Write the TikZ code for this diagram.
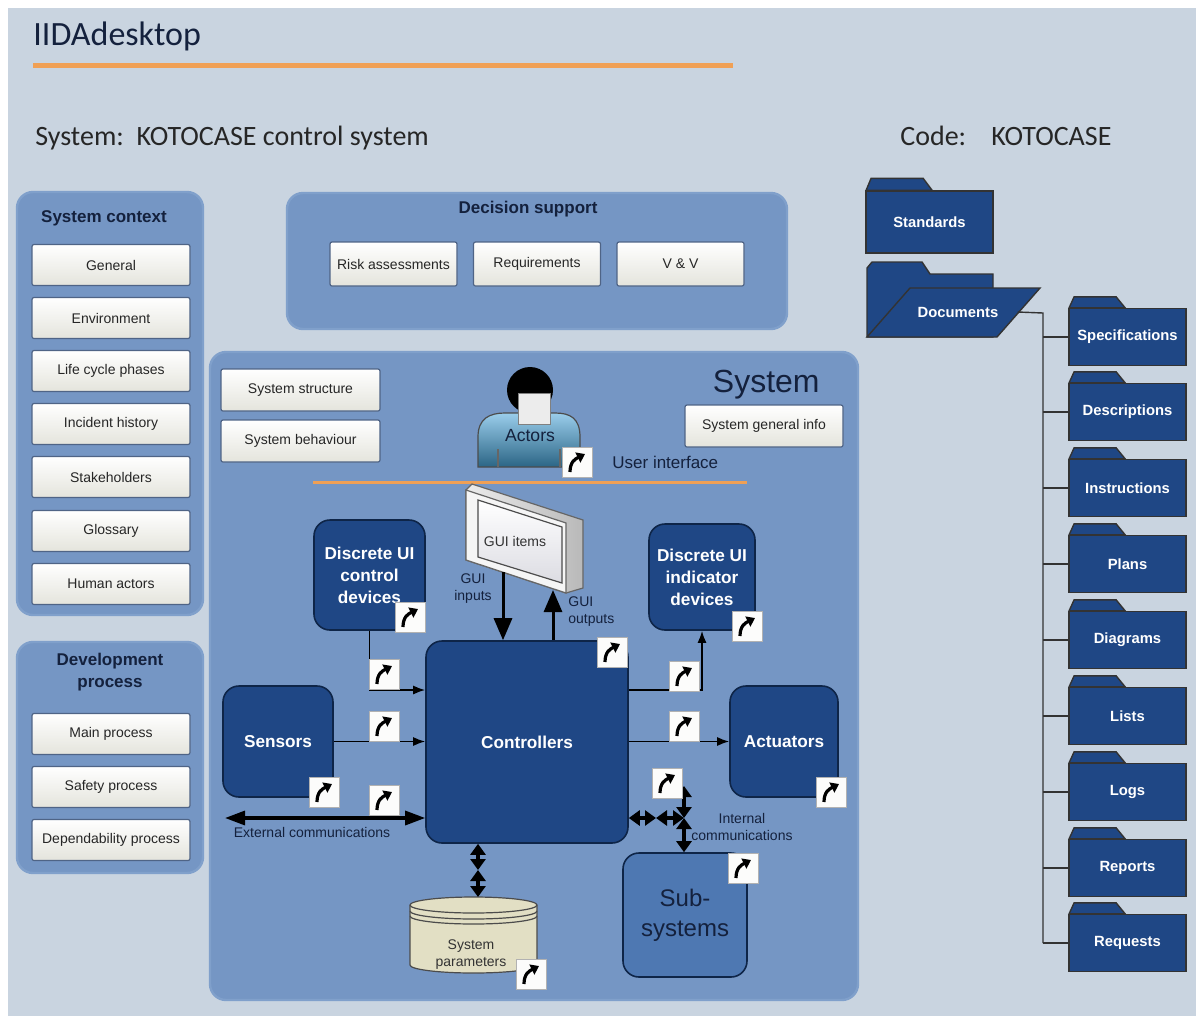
\documentclass[tikz,border=0pt]{standalone}
\usepackage{fontspec}
\setmainfont{Liberation Sans}
\newfontfamily\calfont{Carlito}
\usetikzlibrary{arrows.meta,positioning}
\definecolor{pageBg}{HTML}{C9D4E0}
\definecolor{panelBlue}{HTML}{7596C4}
\definecolor{panelRim}{HTML}{80A0CB}
\definecolor{unitBlue}{HTML}{1F4785}
\definecolor{unitEdge}{HTML}{0E2548}
\definecolor{subBlue}{HTML}{4E78B2}
\definecolor{btnBot}{HTML}{E4E4DC}
\definecolor{btnEdge}{HTML}{4F6486}
\definecolor{navy}{HTML}{14213D}
\definecolor{accent}{HTML}{F0A055}
\definecolor{paramFill}{HTML}{E2DFC4}
\definecolor{actLight}{HTML}{9ACDEB}
\definecolor{actDark}{HTML}{2B6585}
\tikzset{
    panel/.style={fill=panelBlue, draw=panelRim, line width=1.2pt, rounded corners=8pt},
    btn/.style={draw=btnEdge, line width=0.6pt, rounded corners=1pt, top color=white,
        bottom color=btnBot, minimum width=79pt, minimum height=20.5pt, inner sep=0pt,
        font=\fontsize{7}{8}\selectfont, text=black!85},
    ptitle/.style={font=\fontsize{8.5}{11}\selectfont\bfseries, text=navy, align=center},
    unit/.style={fill=unitBlue, draw=unitEdge, line width=0.8pt, rounded corners=8pt, text=white,
        font=\fontsize{8.6}{11}\selectfont\bfseries, align=center, inner sep=0pt},
    folder/.style={fill=unitBlue, draw=black!80, line width=0.7pt, text=white,
        font=\fontsize{7.4}{9}\selectfont\bfseries, inner sep=0pt},
    lbl/.style={font=\fontsize{7}{8.5}\selectfont, text=navy, align=center, inner sep=0pt},
    flow/.style={draw=black, line width=0.8pt, -{Latex[length=6pt,width=4.5pt]}},
    bus/.style={draw=black, line width=1.6pt, {Triangle[length=10pt,width=7pt]}-{Triangle[length=10pt,width=7pt]}},
    twin/.style={draw=black, line width=1.6pt, {Triangle[length=5.5pt,width=7.5pt]}-{Triangle[length=5.5pt,width=7.5pt]}},
    feed/.style={draw=black, line width=1.5pt, -{Triangle[length=11pt,width=9pt]}},
    tree/.style={draw=black!80, line width=0.7pt},
    hyp/.style={draw=black!30, fill=white!90!btnBot, minimum size=15pt, inner sep=0pt,
        path picture={\draw[black, line width=1.6pt, -{Triangle[length=4pt,width=5.5pt]}]
            ([shift={(-3.5pt,-5pt)}]path picture bounding box.center)
            .. controls ([shift={(-3.5pt,0pt)}]path picture bounding box.center)
            and ([shift={(-1pt,1.5pt)}]path picture bounding box.center)
            .. ([shift={(4pt,4pt)}]path picture bounding box.center);}}
}
\newcommand{\foldertab}[3]{%
  \filldraw[fill=unitBlue, draw=black!80, line width=0.7pt]
    ([xshift=0.4pt]#1.north west) -- ++(2.5pt,#3) -- ++(#2,0) -- ++(4.5pt,-#3) -- cycle;}

\begin{document}
\begin{tikzpicture}[x=0.5pt,y=-0.5pt]
\useasboundingbox (0,0) rectangle (1200,1019);
\fill[white] (0,0) rectangle (1200,1019);
\fill[pageBg] (8,8) rectangle (1196,1016);

% heading
\node[anchor=base west, inner sep=0pt, font=\calfont\fontsize{17}{20}\selectfont, text=navy] (title) at (33,45) {IIDAdesktop};
\draw[accent, line width=2.5pt] (33,65) -- (733,65);
\node[anchor=base west, inner sep=0pt, font=\calfont\fontsize{14}{17}\selectfont, text=black!85] (sysName) at (35,145) {System:\ \ KOTOCASE control system};
\node[anchor=base west, inner sep=0pt, font=\calfont\fontsize{14}{17}\selectfont, text=black!85] (codeKey) at (900,145) {Code:};
\node[anchor=base west, inner sep=0pt, font=\calfont\fontsize{14}{17}\selectfont, text=black!85] (codeVal) at (991,145) {KOTOCASE};

% panels
\path[panel] (17,192) rectangle (203,615);
\path[panel] (17,642) rectangle (203,873);
\path[panel] (287,193) rectangle (787,329);
\path[panel] (210,352) rectangle (858,1000);

\node[ptitle] (ctxTitle) at (104,218) {System context};
\foreach \nm/\txt/\yy in {gen/General/265, env/Environment/318, life/Life cycle phases/371,
    inc/Incident history/424, stake/Stakeholders/477, gloss/Glossary/531, human/Human actors/584}
    \node[btn] (\nm) at (111,\yy) {\txt};

\node[ptitle] (devTitle) at (110,672) {Development\\process};
\foreach \nm/\txt/\yy in {mainp/Main process/734, safety/Safety process/787, dep/Dependability process/840}
    \node[btn] (\nm) at (111,\yy) {\txt};

\node[ptitle] (decTitle) at (528,209) {Decision support};
\node[btn, minimum width=63.5pt, minimum height=22pt] (risk) at (393.5,264) {Risk assessments};
\node[btn, minimum width=63.5pt, minimum height=22pt] (reqs) at (537,264) {Requirements};
\node[btn, minimum width=63.5pt, minimum height=22pt] (vv)   at (680.5,264) {V \& V};

% system panel
\node[anchor=base east, inner sep=0pt, font=\fontsize{16}{18}\selectfont, text=navy] (sysTitle) at (820,392) {System};
\node[btn, minimum width=79.5pt, minimum height=21pt] (struct) at (300.5,390) {System structure};
\node[btn, minimum width=79.5pt, minimum height=21pt] (behav)  at (300.5,441) {System behaviour};
\node[btn, minimum height=21pt] (geninfo) at (764,426) {System general info};

% actor figure
\shade[top color=actLight, bottom color=actDark, draw=black!70, line width=0.6pt]
    (478,467) -- (478,437) .. controls (478,418) and (490,413) .. (505,413) -- (555,413)
    .. controls (570,413) and (580,418) .. (580,437) -- (580,467) -- cycle;
\draw[black!60, line width=0.6pt] (498,449) -- (498,467) (560,449) -- (560,467);
\fill[black] (530,390) circle (11.5pt);
\filldraw[fill=gray!15, draw=black!50, line width=0.5pt] (518,393) rectangle (550,424);
\node[font=\fontsize{8.8}{10}\selectfont, text=navy] (actors) at (530,436) {Actors};
\node[anchor=base west, inner sep=0pt, font=\fontsize{8.5}{10}\selectfont, text=navy] (ui) at (612,468) {User interface};
\draw[accent, line width=1.5pt] (313,482) -- (747,482);

% GUI monitor
\shade[left color=gray!15, right color=gray!55, draw=black!60, line width=0.6pt]
    (466,490) -- (472,484) -- (583,520) -- (583,588) -- (566,593) -- (466,560) -- cycle;
\filldraw[fill=gray!8, draw=black!60, line width=0.6pt] (466,490) -- (566,523) -- (566,593) -- (466,560) -- cycle;
\shade[top color=white, bottom color=blue!10!gray!25, draw=black!70, line width=0.6pt]
    (478,500) -- (562,527) -- (562,583) -- (478,557) -- cycle;
\node[lbl, text=black!80] (gui) at (515,541) {GUI items};
\coordinate (guiIn) at (503,572);
\coordinate (guiOut) at (553,590);

% units
\node[unit, minimum width=55.5pt, minimum height=55pt] (ctrldev) at (369.5,575) {Discrete UI\\control\\devices};
\node[unit, minimum width=53pt, minimum height=53pt] (inddev) at (702,577) {Discrete UI\\indicator\\devices};
\node[unit, minimum width=101pt, minimum height=101pt] (ctrl) at (527,742) {Controllers};
\node[unit, minimum width=55pt, minimum height=55.5pt] (sens) at (278,741.5) {Sensors};
\node[unit, minimum width=54pt, minimum height=55.5pt] (act) at (784,741.5) {Actuators};
\node[unit, fill=subBlue, text=navy, font=\fontsize{12}{15}\selectfont, minimum width=62pt, minimum height=62pt] (sub) at (685,915) {Sub-\\systems};

% parameter store
\filldraw[fill=paramFill, draw=black!70, line width=0.6pt]
    (410,905) -- (410,965) arc[start angle=180, end angle=360, x radius=31.75pt, y radius=4pt]
    -- (537,905) arc[start angle=0, end angle=180, x radius=31.75pt, y radius=4pt] -- cycle;
\draw[black!70, line width=0.6pt] (410,905) arc[start angle=180, end angle=360, x radius=31.75pt, y radius=4pt];
\draw[black!70, line width=0.6pt] (410,911) arc[start angle=180, end angle=360, x radius=31.75pt, y radius=4pt];
\draw[black!70, line width=0.6pt] (410,916) arc[start angle=180, end angle=360, x radius=31.75pt, y radius=4pt];
\node[lbl, text=black!80] (param) at (471,955) {System\\parameters};
\coordinate (paramTop) at (478,897);
\coordinate (paramMid) at (478,870);

% connectors
\draw[feed] (guiIn) -- (guiIn |- ctrl.north);
\draw[feed] (guiOut |- ctrl.north) -- (guiOut);
\node[lbl] (guiInLbl) at (473,589) {GUI\\inputs};
\node[lbl, align=left, anchor=west] (guiOutLbl) at (568,612) {GUI\\outputs};

\draw[flow] (ctrldev.south) |- ([yshift=26pt]ctrl.west);
\draw[flow] (sens.east) -- (sens.east -| ctrl.west);
\draw[flow] ([yshift=26pt]ctrl.east) -| (inddev.south);
\draw[flow] (ctrl.east |- act.west) -- (act.west);

\coordinate (extEnd) at (225,818);
\draw[bus] (extEnd) -- ([yshift=-38pt]ctrl.west);
\node[lbl] (extLbl) at (312,832) {External communications};

\coordinate (intMid) at (656,818);
\coordinate (intHub) at (684,818);
\coordinate (intTop) at (684,786);
\draw[twin] ([yshift=-38pt]ctrl.east) -- (intMid);
\draw[twin] (intMid) -- (intHub);
\draw[twin] (intTop) -- (intHub);
\draw[twin] (intHub) -- (intHub |- sub.north);
\node[lbl] (intLbl) at (742,827) {Internal\\communications};

\draw[twin] (ctrl.south -| paramTop) -- (paramMid);
\draw[twin] (paramMid) -- (paramTop);

% hyperlink buttons
\node[hyp] (hypActor)   at (577,462) {};
\node[hyp] (hypCdev)    at (410,617) {};
\node[hyp] (hypIdev)    at (747,626) {};
\node[hyp] (hypCtrl)    at (612,652) {};
\node[hyp] (hypCdevLnk) at (384,674) {};
\node[hyp] (hypIdevLnk) at (684,676) {};
\node[hyp] (hypSensLnk) at (384,726) {};
\node[hyp] (hypActLnk)  at (684,726) {};
\node[hyp] (hypSens)    at (324,792) {};
\node[hyp] (hypAct)     at (831,792) {};
\node[hyp] (hypInt)     at (667,783) {};
\node[hyp] (hypExt)     at (384,800) {};
\node[hyp] (hypSub)     at (743,868) {};
\node[hyp] (hypParam)   at (531,974) {};

% document folders
\node[folder, minimum width=63.5pt, minimum height=31pt] (std) at (929.5,222) {Standards};
\foldertab{std}{26pt}{6pt}
\filldraw[fill=unitBlue, draw=black!80, line width=0.7pt]
    (867,337) -- (867,268) -- (872,262) -- (922,262) -- (930,274) -- (993,274) -- (993,337) -- cycle;
\filldraw[fill=unitBlue, draw=black!80, line width=0.7pt]
    (867,337) -- (910,288) -- (1040,288) -- (997,337) -- cycle;
\node[folder, fill=none, draw=none, minimum width=59pt] (docs) at (958,312) {Documents};
\coordinate (trunk) at (1043,313);
\foreach \nm/\txt/\yy in {spec/Specifications/337, desc/Descriptions/412, instr/Instructions/488,
    plans/Plans/564, diag/Diagrams/640, lists/Lists/716, logs/Logs/792, reps/Reports/868, reqst/Requests/943} {
    \node[folder, minimum width=58.5pt, minimum height=28.5pt] (\nm) at (1127.5,\yy) {\txt};
    \foldertab{\nm}{21pt}{5.5pt}
    \draw[tree] (trunk |- \nm.west) -- (\nm.west);
}
\draw[tree] (docs.east) -- (trunk) -- (trunk |- reqst.west);
\end{tikzpicture}
\end{document}
